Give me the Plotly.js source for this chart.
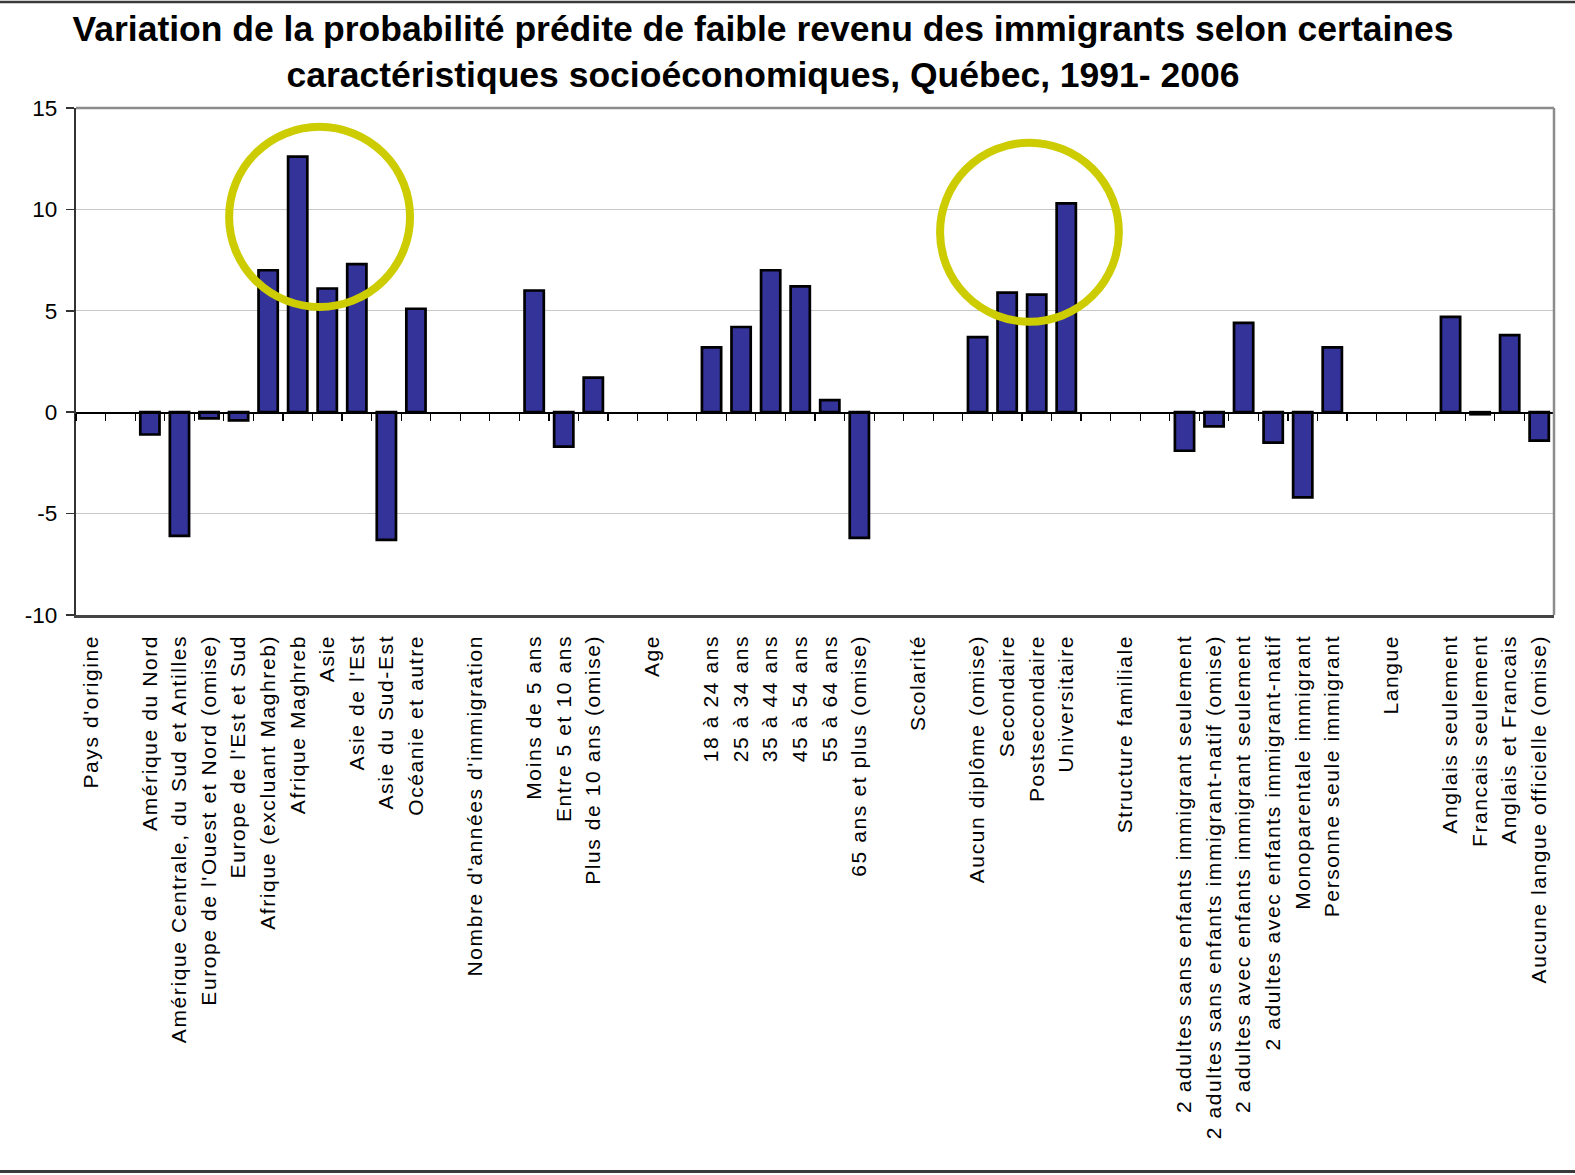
<!DOCTYPE html>
<html>
<head>
<meta charset="utf-8">
<script src="https://cdn.plot.ly/plotly-3.0.1.min.js"></script>
<style>
  html, body { margin: 0; padding: 0; background: #ffffff; }
  #chart { width: 1575px; height: 1175px; }
  .xtick text { letter-spacing: 1.6px; }
</style>
</head>
<body>
<div id="chart"></div>
<script>
// ---- Data ----
const categories = [
  "Pays d'origine", "",
  "Amérique du Nord",
  "Amérique Centrale, du Sud et Antilles",
  "Europe de l'Ouest et Nord (omise)",
  "Europe de l'Est et Sud",
  "Afrique (excluant Maghreb)",
  "Afrique Maghreb",
  "Asie",
  "Asie de l'Est",
  "Asie du Sud-Est",
  "Océanie et autre",
  "",
  "Nombre d'années d'immigration", "",
  "Moins de 5 ans",
  "Entre 5 et 10 ans",
  "Plus de 10 ans (omise)",
  "",
  "Age", "",
  "18 à 24 ans",
  "25 à 34 ans",
  "35 à 44 ans",
  "45 à 54 ans",
  "55 à 64 ans",
  "65 ans et plus (omise)",
  "",
  "Scolarité", "",
  "Aucun diplôme (omise)",
  "Secondaire",
  "Postsecondaire",
  "Universitaire",
  "",
  "Structure familiale", "",
  "2 adultes sans enfants immigrant seulement",
  "2 adultes sans enfants immigrant-natif (omise)",
  "2 adultes avec enfants immigrant seulement",
  "2 adultes avec enfants immigrant-natif",
  "Monoparentale immigrant",
  "Personne seule immigrant",
  "",
  "Langue", "",
  "Anglais seulement",
  "Francais seulement",
  "Anglais et Francais",
  "Aucune langue officielle (omise)"
];

const values = [
  null, null,
  -1.1, -6.1, -0.3, -0.4, 7.0, 12.6, 6.1, 7.3, -6.3, 5.1,
  null,
  null, null,
  6.0, -1.7, 1.7,
  null,
  null, null,
  3.2, 4.2, 7.0, 6.2, 0.6, -6.2,
  null,
  null, null,
  3.7, 5.9, 5.8, 10.3,
  null,
  null, null,
  -1.9, -0.7, 4.4, -1.5, -4.2, 3.2,
  null,
  null, null,
  4.7, -0.1, 3.8, -1.4
];

const yTickValues = [-10, -5, 0, 5, 10, 15];
const yTickLabels = ["-10", "-5", "0", "5", "10", "15"];

const titleLines = [
  "Variation de la probabilité prédite de faible revenu des immigrants selon certaines",
  "caractéristiques socioéconomiques, Québec, 1991- 2006"
];

// ---- Derived ----
const xIdx = categories.map((_, i) => i);
const boundaries = [-0.5].concat(categories.map((_, i) => i + 0.5));
const xRange = [-0.5, categories.length - 0.5];

const FONT = "Liberation Sans, Arial, Helvetica, sans-serif";

const traces = [
  {
    type: "bar",
    x: xIdx,
    y: values,
    xaxis: "x",
    yaxis: "y",
    marker: { color: "#333399", line: { color: "#000000", width: 2.7 } },
    hoverinfo: "skip",
    showlegend: false
  },
  {
    type: "scatter",
    mode: "markers",
    x: [null],
    y: [null],
    xaxis: "x2",
    yaxis: "y",
    hoverinfo: "skip",
    showlegend: false
  }
];

// plot area in pixels: x 76..1554, y 108..615
const layout = {
  width: 1575,
  height: 1175,
  paper_bgcolor: "#ffffff",
  plot_bgcolor: "#ffffff",
  margin: { l: 76, r: 21, t: 108, b: 560, pad: 0 },
  bargap: 0.35,
  showlegend: false,
  font: { family: FONT, color: "#000000" },
  title: {
    text: titleLines.join("<br>"),
    font: { family: FONT, size: 35.5, weight: 700, color: "#000000" },
    x: 763 / 1575,
    xref: "container",
    xanchor: "center",
    y: 1 - 41 / 1175,
    yref: "container",
    yanchor: "top"
  },
  xaxis: {
    type: "linear",
    range: xRange,
    tickmode: "array",
    tickvals: xIdx,
    ticktext: categories,
    tickangle: -90,
    ticks: "",
    ticklabelstandoff: 9,
    tickfont: { family: FONT, size: 21, color: "#000000" },
    showgrid: false,
    zeroline: false,
    showline: true,
    linecolor: "#444444",
    linewidth: 2.5,
    fixedrange: true
  },
  xaxis2: {
    type: "linear",
    overlaying: "x",
    anchor: "free",
    position: 0.4,
    side: "bottom",
    range: xRange,
    tickmode: "array",
    tickvals: boundaries,
    ticks: "outside",
    ticklen: 7,
    tickwidth: 1.2,
    tickcolor: "#000000",
    showticklabels: false,
    showgrid: false,
    zeroline: false,
    showline: true,
    linecolor: "#000000",
    linewidth: 1.5,
    fixedrange: true
  },
  yaxis: {
    range: [-10, 15],
    tickmode: "array",
    tickvals: yTickValues,
    ticktext: yTickLabels,
    ticks: "outside",
    ticklen: 8,
    tickwidth: 1.5,
    tickcolor: "#333333",
    ticklabelstandoff: 4,
    tickfont: { family: FONT, size: 22.5, color: "#000000" },
    showgrid: true,
    gridcolor: "#c8c8c8",
    gridwidth: 1.2,
    zeroline: false,
    showline: true,
    linecolor: "#333333",
    linewidth: 2.2,
    fixedrange: true
  },
  shapes: [
    // top and right border of plot area (gray)
    { type: "line", xref: "paper", yref: "paper", x0: 0, x1: 1, y0: 1, y1: 1,
      line: { color: "#8c8c8c", width: 2.5 }, layer: "above" },
    { type: "line", xref: "paper", yref: "paper", x0: 1, x1: 1, y0: 0, y1: 1,
      line: { color: "#8c8c8c", width: 2.5 }, layer: "above" },
    // highlight circles
    { type: "circle", xref: "x", yref: "y", x0: 4.68, x1: 10.80, y0: 5.19, y1: 14.07,
      line: { color: "#cccc00", width: 8 }, layer: "above" },
    { type: "circle", xref: "x", yref: "y", x0: 28.73, x1: 34.78, y0: 4.46, y1: 13.29,
      line: { color: "#cccc00", width: 8 }, layer: "above" },
    // frame lines of the picture
    { type: "line", xref: "paper", yref: "paper", x0: -0.06, x1: 1.02, y0: (615 - 2) / 507, y1: (615 - 2) / 507,
      line: { color: "#3a3a3a", width: 2.5 }, layer: "above" },
    { type: "line", xref: "paper", yref: "paper", x0: -0.06, x1: 1.02, y0: (615 - 1171.5) / 507, y1: (615 - 1171.5) / 507,
      line: { color: "#3a3a3a", width: 3 }, layer: "above" }
  ]
};

Plotly.newPlot("chart", traces, layout, { displayModeBar: false, staticPlot: true });
</script>
</body>
</html>
